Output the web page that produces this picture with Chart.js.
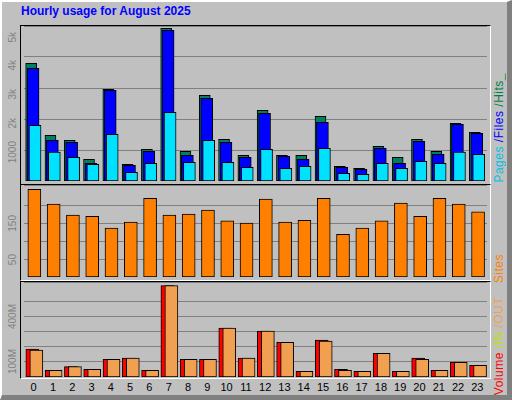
<!DOCTYPE html>
<html><head><meta charset="utf-8">
<script src="https://cdn.jsdelivr.net/npm/chart.js@4"></script>
<style>
body{margin:0;width:512px;height:400px;overflow:hidden;background:#c0c0c0;font-family:Arial,"Liberation Sans",sans-serif;}
#frame{position:absolute;left:0;top:0;border-left:2px solid #fff;border-top:2px solid #fff;border-right:5px solid #808080;border-bottom:5px solid #808080;box-sizing:border-box;width:512px;height:400px;}
.panel{position:absolute;left:20px;width:471px;border-top:1px solid #000;border-left:1px solid #000;border-right:1px solid #fff;border-bottom:1px solid #fff;box-sizing:border-box;}
canvas{position:absolute;}
.vt{position:absolute;writing-mode:vertical-rl;transform:rotate(180deg);white-space:pre;letter-spacing:0.5px;}
.tk{position:absolute;writing-mode:vertical-rl;white-space:nowrap;color:#808080;font-size:10px;line-height:10px;}
.xl{position:absolute;top:381px;font-size:11px;width:20px;text-align:center;color:#000;}
#title{position:absolute;left:21px;top:4px;color:#0000ff;font-weight:bold;font-size:12px;}
</style></head><body>
<div id="frame"></div>
<div id="title">Hourly usage for August 2025</div>
<div class="panel" style="top:25px;height:160px"></div>
<div class="panel" style="top:184px;height:97px"></div>
<div class="panel" style="top:281px;height:98px"></div>
<canvas id="c1" style="left:21px;top:26px"></canvas>
<canvas id="c2" style="left:21px;top:185px"></canvas>
<canvas id="c3" style="left:21px;top:282px"></canvas>
<div class="vt" style="left:492px;bottom:217px;font-size:12px"><span style="color:#00c0e0">Pages </span><span style="color:#0000ff">/Files </span><span style="color:#008040">/Hits_</span></div>
<div class="vt" style="left:492px;bottom:117px;font-size:12px;color:#ff8000">Sites</div>
<div class="vt" style="left:492px;bottom:5px;font-size:12px"><span style="color:#ff0000">Volume </span><span style="color:#c0e000">/IN </span><span style="color:#f0a050">/OUT</span></div>
<div id="lbls"></div>
<script>
const hours=["0","1","2","3","4","5","6","7","8","9","10","11","12","13","14","15","16","17","18","19","20","21","22","23"];
const hits=[4090,1590,1410,750,3180,580,1100,5300,1030,2975,1450,890,2455,890,890,2245,510,440,1205,820,1450,1030,2000,1690];
const files=[3910,1410,1340,615,3150,545,1030,5230,890,2870,1340,820,2350,855,750,2040,475,405,1135,615,1380,925,1970,1655];
const pages=[1930,1000,820,580,1620,300,615,2385,650,1410,650,475,1100,440,510,1135,270,235,615,440,685,615,1000,925];
const sites=[244,203,172,169,136,153,219,172,175,186,156,150,217,153,158,219,119,136,156,206,169,219,203,181];
const volume=[185,45,69,51,118,125,45,607,118,118,325,125,305,231,38,245,51,38,158,38,125,45,98,78];
const volOut=[178,45,69,51,118,125,45,607,118,118,325,125,305,231,38,238,45,38,158,38,118,45,98,78];
const topTicks=[1000,2000,3000,4000,5000], topTickLabels=["1000","2k","3k","4k","5k"];
const midTicks=[50,150], midTickLabels=["50","150"];
const botTicks=[100,400], botTickLabels=["100M","400M"];

const shift={id:'shift',afterDatasetsUpdate(ch){ch.data.datasets.forEach((d,i)=>{const m=ch.getDatasetMeta(i);m.data.forEach(e=>{e.x+=d.xOff||0;});});}};
function bar(label,data,color,w,off,order){return {label,data,backgroundColor:color,borderColor:'#000',borderWidth:1,borderSkipped:false,barThickness:w,xOff:off,order,grouped:false};}
function mk(id,w,h,ds,max,step,padB){
  const cv=document.getElementById(id);cv.width=w;cv.height=h;cv.style.width=w+'px';cv.style.height=h+'px';
  return new Chart(cv,{type:'bar',data:{labels:hours,datasets:ds},plugins:[shift],
    options:{responsive:false,animation:false,devicePixelRatio:1,
      layout:{padding:{left:3,right:2,top:0,bottom:padB}},
      plugins:{legend:{display:false},tooltip:{enabled:false}},
      scales:{x:{display:false,grid:{display:false}},
        y:{min:0,max,ticks:{display:false,stepSize:step},border:{display:false},grid:{color:'#808080',lineWidth:1,drawTicks:false},afterBuildTicks:s=>{s.ticks=s.ticks.filter(t=>t.value>0);}}}}});
}
const c1=mk('c1',468,157,[bar('Hits',hits,'#008060',11,-2.5,3),bar('Files',files,'#0000ff',12,-0.6,2),bar('Pages',pages,'#00e0ff',12,1.4,1)],5382,1000,2);
const c2=mk('c2',468,94,[bar('Sites',sites,'#ff8000',13,0.7,1)],256,50,2);
const c3=mk('c3',468,95,[bar('Volume',volume,'#ff0000',13,-1.3,2),bar('Out',volOut,'#f0a050',13,2.7,1)],631,100,0);
const L=document.getElementById('lbls');
function ticks(ch,top,vals,labs){vals.forEach((v,i)=>{const d=document.createElement('div');d.className='tk';d.textContent=labs[i];L.appendChild(d);
  const y=top+ch.scales.y.getPixelForValue(v);d.style.left='8px';d.style.top=(y-d.offsetHeight/2)+'px';d.style.transform='rotate(180deg)';});}
ticks(c1,26,topTicks,topTickLabels);ticks(c2,185,midTicks,midTickLabels);ticks(c3,282,botTicks,botTickLabels);
hours.forEach((h,i)=>{const d=document.createElement('div');d.className='xl';d.textContent=h;d.style.left=(21+c3.scales.x.getPixelForValue(i)-10)+'px';L.appendChild(d);});
</script></body></html>
